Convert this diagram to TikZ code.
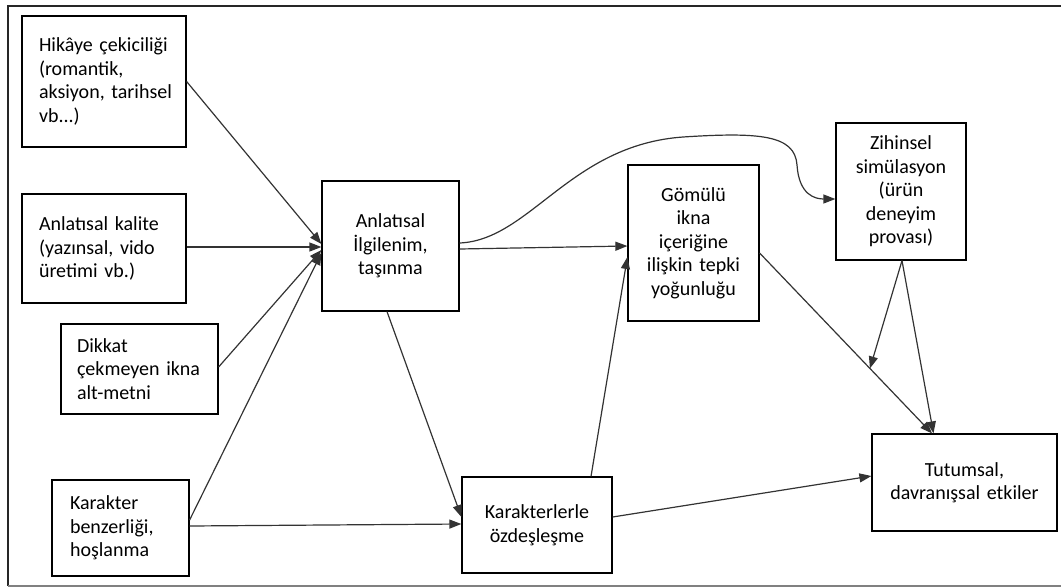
\documentclass[tikz,border=0pt]{standalone}
\usepackage{fontspec}
\setmainfont{Carlito}
\usetikzlibrary{arrows.meta,calc}
\newcommand\dfont{\fontsize{20}{23.5}\selectfont\hyphenpenalty=10000\exhyphenpenalty=10000}
\begin{document}
\begin{tikzpicture}[x=1pt,y=-1pt,
  box/.style={draw=black, line width=1.2pt, inner ysep=0pt, font=\dfont, text=black},
  lbox/.style={box, align=left},
  cbox/.style={box, align=center, inner xsep=6pt},
  arr/.style={-{Triangle[length=12pt,width=9pt]}, line width=1.2pt, draw=black!80}]
\useasboundingbox (0,0) rectangle (1061,587);
% frame
\draw[line width=2pt, black!85] (8,586) -- (8,6) -- (1061,6);
\draw[line width=1.5pt, gray] (8,586) -- (1061,586);
% boxes
\node[lbox, inner xsep=17pt, text width=130pt, minimum height=131pt] (b1) at (104,81.5)
  {Hikâye çekiciliği\\(romantik,\\\mbox{aksiyon, tarihsel}\\vb...)};
\node[lbox, inner xsep=17pt, text width=130pt, minimum height=109pt] (b2) at (104,248.5)
  {Anlatısal kalite\\(yazınsal, vido\\üretimi vb.)};
\node[lbox, inner xsep=16pt, text width=125pt, minimum height=90pt] (b3) at (139.5,369)
  {Dikkat\\çekmeyen ikna\\alt-metni};
\node[lbox, inner xsep=18pt, text width=101pt, minimum height=96pt] (b4) at (120.5,528)
  {Karakter\\benzerliği,\\hoşlanma};
\node[cbox, text width=125pt, minimum height=130pt] (b5) at (390.5,246)
  {Anlatısal\\İlgilenim,\\taşınma};
\node[cbox, text width=119pt, minimum height=156pt] (b6) at (693.5,243)
  {Gömülü\\ikna\\içeriğine\\ilişkin tepki\\yoğunluğu};
\node[cbox, text width=118pt, minimum height=137pt] (b7) at (901,191.5)
  {Zihinsel\\simülasyon\\(ürün\\deneyim\\provası)};
\node[cbox, text width=138pt, minimum height=96pt] (b8) at (537,525)
  {Karakterlerle\\özdeşleşme};
\node[cbox, text width=173pt, minimum height=97pt] (b9) at (964.5,482.5)
  {Tutumsal,\\davranışsal etkiler};
% connectors
\draw[arr] (b1.east) -- ([yshift=2pt]b5.west);
\draw[arr] ([yshift=1.5pt]b2.east) -- ([yshift=-1pt]b5.west);
\draw[arr] ([yshift=2pt]b3.east) -- ([yshift=-4pt]b5.west);
\draw[arr] ([yshift=8pt]b4.east) -- ([yshift=-7pt]b5.west);
\draw[arr] ([yshift=2pt]b4.east) -- ([yshift=1pt]b8.west);
\draw[arr] ([yshift=-3pt]b5.east) -- ([yshift=-3pt]b6.west);
\draw[arr] ([yshift=3pt]b5.east) .. controls (530,240) and (570,145) .. (683,137)
  .. controls (760,132) and (795,135) .. (797,165)
  .. controls (799,195) and (815,199) .. ([yshift=-7.5pt]b7.west);
\draw[arr] ([xshift=-3.5pt]b5.south) -- ([yshift=8pt]b8.west);
\draw[arr] ([xshift=54pt]b8.north) -- ([yshift=-14pt]b6.west);
\coordinate (s10) at ([yshift=-10pt]b6.east);
\coordinate (e10) at ([xshift=-32.5pt]b9.north);
\draw[arr] (s10) -- (e10);
\draw[arr] ([xshift=1pt]b7.south) -- ([xshift=-31pt]b9.north);
\coordinate (m) at ($(s10)!0.64!(e10)$);
\draw[arr] ([xshift=1pt]b7.south) -- (m);
\draw[arr] ([yshift=8pt]b8.east) -- ([yshift=6.5pt]b9.west);
\end{tikzpicture}
\end{document}
